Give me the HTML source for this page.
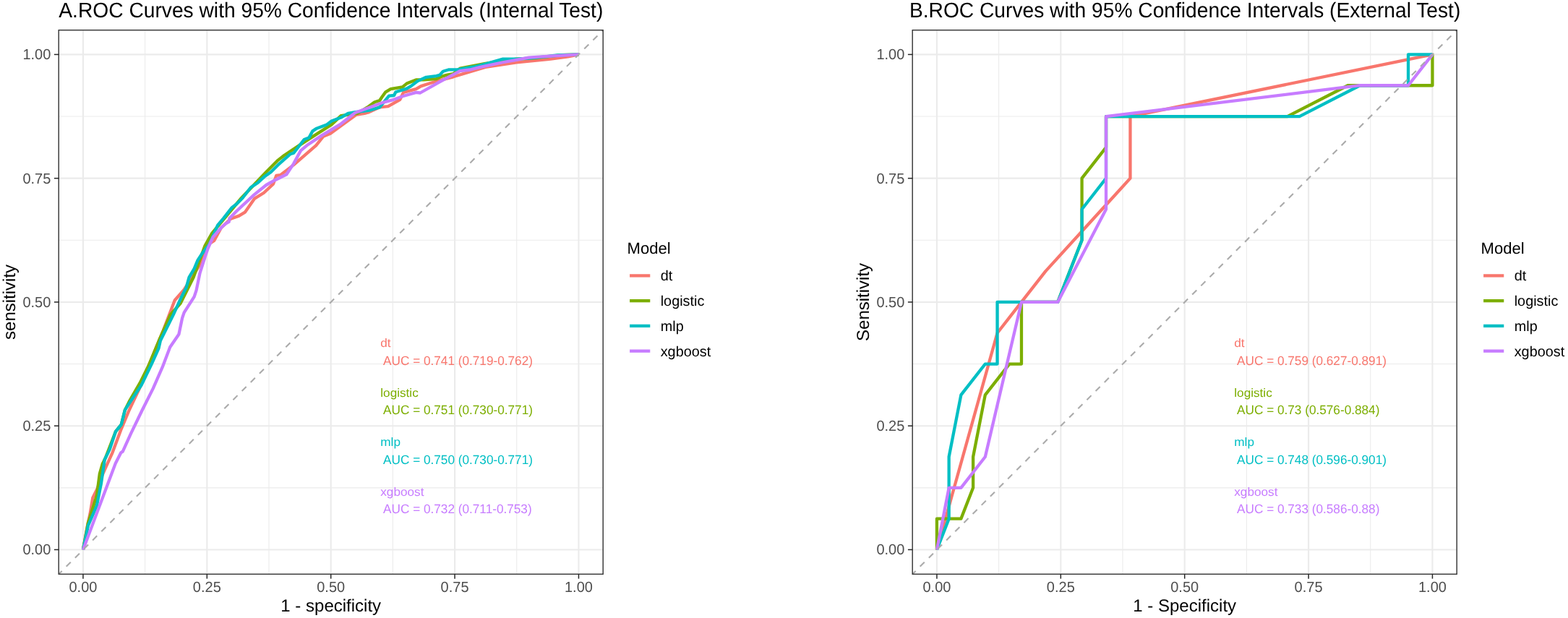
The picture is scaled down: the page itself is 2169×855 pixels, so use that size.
<!DOCTYPE html>
<html><head><meta charset="utf-8"><title>ROC Curves</title>
<style>
html,body{margin:0;padding:0;background:#fff;}
body{width:2169px;height:855px;overflow:hidden;}
svg{display:block;font-family:"Liberation Sans",Arial,Helvetica,sans-serif;text-rendering:geometricPrecision;}
</style></head><body>
<svg width="2169" height="855" viewBox="0 0 2169 855">
<rect width="2169" height="855" fill="#fff"/>
<clipPath id="ca"><rect x="81.2" y="41.66" width="753" height="752.68"/></clipPath>
<g stroke="#EBEBEB" fill="none"><line x1="81.2" x2="834.2" y1="674.84" y2="674.84" stroke-width="1.07"/><line y1="41.66" y2="794.34" x1="200.63" x2="200.63" stroke-width="1.07"/><line x1="81.2" x2="834.2" y1="503.57" y2="503.57" stroke-width="1.07"/><line y1="41.66" y2="794.34" x1="372.01" x2="372.01" stroke-width="1.07"/><line x1="81.2" x2="834.2" y1="332.31" y2="332.31" stroke-width="1.07"/><line y1="41.66" y2="794.34" x1="543.39" x2="543.39" stroke-width="1.07"/><line x1="81.2" x2="834.2" y1="161.04" y2="161.04" stroke-width="1.07"/><line y1="41.66" y2="794.34" x1="714.77" x2="714.77" stroke-width="1.07"/><line x1="81.2" x2="834.2" y1="760.47" y2="760.47" stroke-width="2.13"/><line y1="41.66" y2="794.34" x1="114.94" x2="114.94" stroke-width="2.13"/><line x1="81.2" x2="834.2" y1="589.21" y2="589.21" stroke-width="2.13"/><line y1="41.66" y2="794.34" x1="286.32" x2="286.32" stroke-width="2.13"/><line x1="81.2" x2="834.2" y1="417.94" y2="417.94" stroke-width="2.13"/><line y1="41.66" y2="794.34" x1="457.7" x2="457.7" stroke-width="2.13"/><line x1="81.2" x2="834.2" y1="246.67" y2="246.67" stroke-width="2.13"/><line y1="41.66" y2="794.34" x1="629.08" x2="629.08" stroke-width="2.13"/><line x1="81.2" x2="834.2" y1="75.41" y2="75.41" stroke-width="2.13"/><line y1="41.66" y2="794.34" x1="800.46" x2="800.46" stroke-width="2.13"/></g>
<g clip-path="url(#ca)" fill="none" stroke-width="4.3" stroke-linejoin="round" stroke-linecap="butt"><polyline points="114.94,760.47 121.4,725.2 124.5,711.3 128.3,688.7 134.4,676.5 140.4,659.8 146.5,646.1 155.7,625.8 167.8,593.3 177.8,569.4 194.7,533.6 204,510 225.8,457.3 241.7,415.5 254.7,400.6 275.5,367.8 285.5,340 296.2,333 306,315 319.1,302.7 330.6,298.6 338.8,293.7 351.9,274.9 365,266.7 378.1,254.4 382.2,242.9 387.9,242.1 406.2,228.1 437.3,201.1 447.1,188.8 457,184.7 471.7,174 493,158.5 504.4,156.8 510,155.4 525.2,148.4 536.9,147.2 553.3,137.8 558,127.9 575.5,123.2 582.5,119.1 595.4,115 609.4,110.9 627,106.3 657.1,97.1 671.4,92.9 714.3,86.4 757.1,82.1 785.7,78.4 800.46,75.41" stroke="#F8766D"/><polyline points="114.94,760.47 121.9,723.3 133.9,685.5 137.8,655.7 141.8,641.7 145.8,633.8 159.9,597.2 167.8,587.3 172.8,567.4 179.8,553.5 193.7,529.6 205.6,505.8 219.9,471.2 235.8,435.4 249.7,419.5 267.6,383.7 283.5,340 292.9,323.2 333.9,274 368.2,238 384.6,221.6 393.1,215 417.7,198.6 440.6,183.9 458.6,172.4 471.7,160.1 494.6,156.8 510,147.2 518.2,141.3 525.2,139 528.7,133.7 533.4,127.3 540.4,123.2 556.8,120.3 562.6,115.6 575.5,110.4 586,110.4 603.6,109.2 609.4,106.3 617.6,103.9 627,102.2 636.3,94.6 657.1,90.7 671.4,87.9 714.3,81.6 740,80.3 768,77.2 775.4,76.2 800.46,75.41" stroke="#7CAE00"/><polyline points="114.94,760.47 121.9,727.2 133.9,699.4 139.8,669.6 144.8,635.8 151.7,621.9 159.9,597.2 167.8,587.3 172.8,567.4 177.8,559.5 195.7,532.6 209.6,503.8 219.5,481.9 221.9,471.2 239.8,435.4 249.7,413.6 257.7,397.7 261.6,383.7 268.6,371.8 273.6,359.9 279.5,350.9 289.6,337.9 301.1,311.7 309.3,301.9 320.8,287.1 327.3,282.2 335.5,274 347,259.3 356.8,252.7 366.6,243.7 374.8,238 384.6,228.2 401.3,213.3 406.2,211.7 420.9,192.9 427.5,190.4 432.4,181.4 437.3,178.1 452,172.4 458.6,167.5 471.7,162.6 481.5,156.8 491.3,155.2 511,152.7 525.2,148.4 538.1,132.6 545.1,132 547.4,127.3 562.6,122.6 568.5,119.1 577.8,112.1 589.5,106.8 603.6,105.1 608.2,103.9 612.9,98.7 621.1,96.3 632.8,96.3 638.7,95.1 657.1,92.1 671.4,88.6 695.7,81.6 714.3,81.6 731.4,80.6 757,78.2 771.4,76.3 800.46,75.41" stroke="#00BFC4"/><polyline points="114.94,760.47 159.8,641 167.3,626.3 169.8,624.6 180.9,600.1 196.8,567.3 211.8,537.4 224.9,507.4 235.2,480.3 247.4,462.5 252.1,440 254.7,432.4 268.6,410.6 271.6,401.6 276.5,377.8 283.5,355.9 287.5,344 294.6,328.1 306,315 312.6,309.2 316.7,306.8 317.5,301.9 327.3,292 351.9,269.1 368.2,256 381.3,248.7 396.4,241.2 406.2,226.4 416,208.4 425.8,200.2 445.5,187.1 470.1,172.4 491.3,156 511,148.7 527.5,142.5 542.7,138.4 556.8,133.2 575.5,127.9 581.3,128.5 609.4,112.7 636.3,98.1 650,96.5 664.3,92.9 694.2,86.5 714.3,82.9 731.4,79.6 757.1,77.9 800.46,75.41" stroke="#C77CFF"/></g>
<line clip-path="url(#ca)" x1="81.2" y1="794.34" x2="834.2" y2="41.66" stroke="#ABABAB" stroke-width="2.1" stroke-dasharray="8.586 8.586" stroke-dashoffset="2.33"/>
<g><text transform="translate(526.25,480.1) scale(1,0.96)" font-size="17.2" fill="#F8766D">dt</text><text transform="translate(526.25,504.65) scale(1,1.028)" font-size="17.2" fill="#F8766D" xml:space="preserve"> AUC = 0.741 (0.719-0.762)</text><text transform="translate(526.25,548.66) scale(1,0.96)" font-size="17.2" fill="#7CAE00">logistic</text><text transform="translate(526.25,573.21) scale(1,1.028)" font-size="17.2" fill="#7CAE00" xml:space="preserve"> AUC = 0.751 (0.730-0.771)</text><text transform="translate(526.25,617.22) scale(1,0.96)" font-size="17.2" fill="#00BFC4">mlp</text><text transform="translate(526.25,641.77) scale(1,1.028)" font-size="17.2" fill="#00BFC4" xml:space="preserve"> AUC = 0.750 (0.730-0.771)</text><text transform="translate(526.25,685.78) scale(1,0.96)" font-size="17.2" fill="#C77CFF">xgboost</text><text transform="translate(526.25,710.33) scale(1,1.028)" font-size="17.2" fill="#C77CFF" xml:space="preserve"> AUC = 0.732 (0.711-0.753)</text></g>
<rect x="81.2" y="41.66" width="753" height="752.68" fill="none" stroke="#333333" stroke-width="1.42"/>
<g stroke="#262626" stroke-width="1.5"><line x1="74.9" x2="81.2" y1="760.47" y2="760.47"/><line y1="794.34" y2="800.64" x1="114.94" x2="114.94"/><line x1="74.9" x2="81.2" y1="589.21" y2="589.21"/><line y1="794.34" y2="800.64" x1="286.32" x2="286.32"/><line x1="74.9" x2="81.2" y1="417.94" y2="417.94"/><line y1="794.34" y2="800.64" x1="457.7" x2="457.7"/><line x1="74.9" x2="81.2" y1="246.67" y2="246.67"/><line y1="794.34" y2="800.64" x1="629.08" x2="629.08"/><line x1="74.9" x2="81.2" y1="75.41" y2="75.41"/><line y1="794.34" y2="800.64" x1="800.46" x2="800.46"/></g>
<g fill="#4D4D4D"><text transform="translate(70.35,767.47) scale(1,1.022)" font-size="20.0" text-anchor="end">0.00</text><text transform="translate(114.94,819) scale(1,1.022)" font-size="20.0" text-anchor="middle">0.00</text><text transform="translate(70.35,596.21) scale(1,1.022)" font-size="20.0" text-anchor="end">0.25</text><text transform="translate(286.32,819) scale(1,1.022)" font-size="20.0" text-anchor="middle">0.25</text><text transform="translate(70.35,424.94) scale(1,1.022)" font-size="20.0" text-anchor="end">0.50</text><text transform="translate(457.7,819) scale(1,1.022)" font-size="20.0" text-anchor="middle">0.50</text><text transform="translate(70.35,253.67) scale(1,1.022)" font-size="20.0" text-anchor="end">0.75</text><text transform="translate(629.08,819) scale(1,1.022)" font-size="20.0" text-anchor="middle">0.75</text><text transform="translate(70.35,82.41) scale(1,1.022)" font-size="20.0" text-anchor="end">1.00</text><text transform="translate(800.46,819) scale(1,1.022)" font-size="20.0" text-anchor="middle">1.00</text></g>
<text transform="translate(457.7,846.1)" font-size="24.0" text-anchor="middle">1 - specificity</text>
<text transform="translate(21.4,417.94) rotate(-90)" font-size="24.0" text-anchor="middle">sensitivity</text>
<text transform="translate(81.3,24.1) scale(1,1.035)" font-size="28.2">A.ROC Curves with 95% Confidence Intervals (Internal Test)</text>
<g><text transform="translate(867.6,350.6)" font-size="22.1">Model</text><line x1="871.1" x2="899.3" y1="381.4" y2="381.4" stroke="#F8766D" stroke-width="4.3"/><text transform="translate(913.7,388.3)" font-size="19.85">dt</text><line x1="871.1" x2="899.3" y1="416.15" y2="416.15" stroke="#7CAE00" stroke-width="4.3"/><text transform="translate(913.7,423.05)" font-size="19.85">logistic</text><line x1="871.1" x2="899.3" y1="450.9" y2="450.9" stroke="#00BFC4" stroke-width="4.3"/><text transform="translate(913.7,457.8)" font-size="19.85">mlp</text><line x1="871.1" x2="899.3" y1="485.65" y2="485.65" stroke="#C77CFF" stroke-width="4.3"/><text transform="translate(913.7,492.55)" font-size="19.85">xgboost</text></g>
<clipPath id="cb"><rect x="1262.2" y="41.66" width="753" height="752.68"/></clipPath>
<g stroke="#EBEBEB" fill="none"><line x1="1262.2" x2="2015.2" y1="674.84" y2="674.84" stroke-width="1.07"/><line y1="41.66" y2="794.34" x1="1381.63" x2="1381.63" stroke-width="1.07"/><line x1="1262.2" x2="2015.2" y1="503.57" y2="503.57" stroke-width="1.07"/><line y1="41.66" y2="794.34" x1="1553.01" x2="1553.01" stroke-width="1.07"/><line x1="1262.2" x2="2015.2" y1="332.31" y2="332.31" stroke-width="1.07"/><line y1="41.66" y2="794.34" x1="1724.39" x2="1724.39" stroke-width="1.07"/><line x1="1262.2" x2="2015.2" y1="161.04" y2="161.04" stroke-width="1.07"/><line y1="41.66" y2="794.34" x1="1895.77" x2="1895.77" stroke-width="1.07"/><line x1="1262.2" x2="2015.2" y1="760.47" y2="760.47" stroke-width="2.13"/><line y1="41.66" y2="794.34" x1="1295.94" x2="1295.94" stroke-width="2.13"/><line x1="1262.2" x2="2015.2" y1="589.21" y2="589.21" stroke-width="2.13"/><line y1="41.66" y2="794.34" x1="1467.32" x2="1467.32" stroke-width="2.13"/><line x1="1262.2" x2="2015.2" y1="417.94" y2="417.94" stroke-width="2.13"/><line y1="41.66" y2="794.34" x1="1638.7" x2="1638.7" stroke-width="2.13"/><line x1="1262.2" x2="2015.2" y1="246.67" y2="246.67" stroke-width="2.13"/><line y1="41.66" y2="794.34" x1="1810.08" x2="1810.08" stroke-width="2.13"/><line x1="1262.2" x2="2015.2" y1="75.41" y2="75.41" stroke-width="2.13"/><line y1="41.66" y2="794.34" x1="1981.46" x2="1981.46" stroke-width="2.13"/></g>
<g clip-path="url(#cb)" fill="none" stroke-width="4.3" stroke-linejoin="round" stroke-linecap="butt"><polyline points="1295.94,760.47 1379.54,460.76 1412.98,417.94 1446.42,375.12 1563.46,246.67 1563.46,161.04 1981.46,75.41" stroke="#F8766D"/><polyline points="1295.94,760.47 1295.94,717.65 1329.38,717.65 1346.1,674.84 1346.1,632.02 1362.82,546.39 1396.26,503.57 1412.98,503.57 1412.98,417.94 1463.14,417.94 1496.58,332.31 1496.58,246.67 1530.02,203.86 1530.02,161.04 1780.82,161.04 1864.42,118.23 1981.46,118.23 1981.46,75.41" stroke="#7CAE00"/><polyline points="1295.94,760.47 1312.66,717.65 1312.66,632.02 1329.38,546.39 1362.82,503.57 1379.54,503.57 1379.54,417.94 1463.14,417.94 1496.58,332.31 1496.58,289.49 1530.02,246.67 1530.02,161.04 1797.54,161.04 1881.14,118.23 1948.02,118.23 1948.02,75.41 1981.46,75.41" stroke="#00BFC4"/><polyline points="1295.94,760.47 1312.66,674.84 1329.38,674.84 1362.82,632.02 1412.98,417.94 1463.14,417.94 1530.02,289.49 1530.02,161.04 1881.14,118.23 1948.02,118.23 1981.46,75.41" stroke="#C77CFF"/></g>
<line clip-path="url(#cb)" x1="1262.2" y1="794.34" x2="2015.2" y2="41.66" stroke="#ABABAB" stroke-width="2.1" stroke-dasharray="8.586 8.586" stroke-dashoffset="2.33"/>
<g><text transform="translate(1707.25,480.1) scale(1,0.96)" font-size="17.2" fill="#F8766D">dt</text><text transform="translate(1707.25,504.65) scale(1,1.028)" font-size="17.2" fill="#F8766D" xml:space="preserve"> AUC = 0.759 (0.627-0.891)</text><text transform="translate(1707.25,548.66) scale(1,0.96)" font-size="17.2" fill="#7CAE00">logistic</text><text transform="translate(1707.25,573.21) scale(1,1.028)" font-size="17.2" fill="#7CAE00" xml:space="preserve"> AUC = 0.73 (0.576-0.884)</text><text transform="translate(1707.25,617.22) scale(1,0.96)" font-size="17.2" fill="#00BFC4">mlp</text><text transform="translate(1707.25,641.77) scale(1,1.028)" font-size="17.2" fill="#00BFC4" xml:space="preserve"> AUC = 0.748 (0.596-0.901)</text><text transform="translate(1707.25,685.78) scale(1,0.96)" font-size="17.2" fill="#C77CFF">xgboost</text><text transform="translate(1707.25,710.33) scale(1,1.028)" font-size="17.2" fill="#C77CFF" xml:space="preserve"> AUC = 0.733 (0.586-0.88)</text></g>
<rect x="1262.2" y="41.66" width="753" height="752.68" fill="none" stroke="#333333" stroke-width="1.42"/>
<g stroke="#262626" stroke-width="1.5"><line x1="1255.9" x2="1262.2" y1="760.47" y2="760.47"/><line y1="794.34" y2="800.64" x1="1295.94" x2="1295.94"/><line x1="1255.9" x2="1262.2" y1="589.21" y2="589.21"/><line y1="794.34" y2="800.64" x1="1467.32" x2="1467.32"/><line x1="1255.9" x2="1262.2" y1="417.94" y2="417.94"/><line y1="794.34" y2="800.64" x1="1638.7" x2="1638.7"/><line x1="1255.9" x2="1262.2" y1="246.67" y2="246.67"/><line y1="794.34" y2="800.64" x1="1810.08" x2="1810.08"/><line x1="1255.9" x2="1262.2" y1="75.41" y2="75.41"/><line y1="794.34" y2="800.64" x1="1981.46" x2="1981.46"/></g>
<g fill="#4D4D4D"><text transform="translate(1251.35,767.47) scale(1,1.022)" font-size="20.0" text-anchor="end">0.00</text><text transform="translate(1295.94,819) scale(1,1.022)" font-size="20.0" text-anchor="middle">0.00</text><text transform="translate(1251.35,596.21) scale(1,1.022)" font-size="20.0" text-anchor="end">0.25</text><text transform="translate(1467.32,819) scale(1,1.022)" font-size="20.0" text-anchor="middle">0.25</text><text transform="translate(1251.35,424.94) scale(1,1.022)" font-size="20.0" text-anchor="end">0.50</text><text transform="translate(1638.7,819) scale(1,1.022)" font-size="20.0" text-anchor="middle">0.50</text><text transform="translate(1251.35,253.67) scale(1,1.022)" font-size="20.0" text-anchor="end">0.75</text><text transform="translate(1810.08,819) scale(1,1.022)" font-size="20.0" text-anchor="middle">0.75</text><text transform="translate(1251.35,82.41) scale(1,1.022)" font-size="20.0" text-anchor="end">1.00</text><text transform="translate(1981.46,819) scale(1,1.022)" font-size="20.0" text-anchor="middle">1.00</text></g>
<text transform="translate(1638.7,846.1)" font-size="24.0" text-anchor="middle">1 - Specificity</text>
<text transform="translate(1201.5,417.94) rotate(-90)" font-size="24.0" text-anchor="middle">Sensitivity</text>
<text transform="translate(1257.9,24.1) scale(1,1.035)" font-size="28.2">B.ROC Curves with 95% Confidence Intervals (External Test)</text>
<g><text transform="translate(2048.6,350.6)" font-size="22.1">Model</text><line x1="2052.1" x2="2080.3" y1="381.4" y2="381.4" stroke="#F8766D" stroke-width="4.3"/><text transform="translate(2094.7,388.3)" font-size="19.85">dt</text><line x1="2052.1" x2="2080.3" y1="416.15" y2="416.15" stroke="#7CAE00" stroke-width="4.3"/><text transform="translate(2094.7,423.05)" font-size="19.85">logistic</text><line x1="2052.1" x2="2080.3" y1="450.9" y2="450.9" stroke="#00BFC4" stroke-width="4.3"/><text transform="translate(2094.7,457.8)" font-size="19.85">mlp</text><line x1="2052.1" x2="2080.3" y1="485.65" y2="485.65" stroke="#C77CFF" stroke-width="4.3"/><text transform="translate(2094.7,492.55)" font-size="19.85">xgboost</text></g>
</svg>
</body></html>
